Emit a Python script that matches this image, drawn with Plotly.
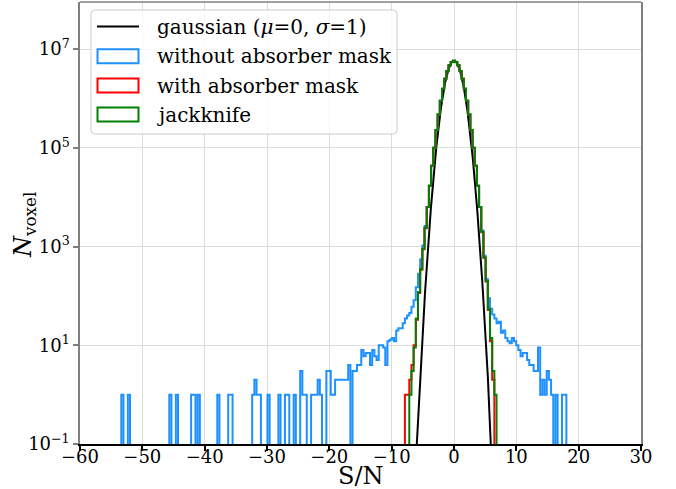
import numpy as np
import plotly.graph_objects as go

# ---------------- data ----------------
bin_width = 0.35

gauss_mu = 0.0
gauss_sigma = 1.0
gauss_peak = 5.75e6

core_sn = [-4.2, -3.85, -3.5, -3.15, -2.8, -2.45, -2.1, -1.75, -1.4, -1.05, -0.7, -0.35,
           0.0, 0.35, 0.7, 1.05, 1.4, 1.75, 2.1, 2.45, 2.8, 3.15, 3.5, 3.85, 4.2]
core_counts = [6.3e3, 1.7e4, 4.3e4, 1.0e5, 2.3e5, 4.7e5, 9.0e5, 1.56e6, 2.5e6, 3.6e6, 4.67e6, 5.46e6,
               5.75e6, 5.46e6, 4.67e6, 3.6e6, 2.5e6, 1.56e6, 9.0e5, 4.7e5, 2.3e5, 1.0e5, 4.3e4, 1.7e4, 6.3e3]

green_tail_sn = [-7.0, -6.65, -6.3, -5.95, -5.6, -5.25, -4.9, -4.55,
                 4.55, 4.9, 5.25, 5.6, 5.95, 6.3, 6.65]
green_tail_counts = [1, 3, 9, 35, 120, 350, 900, 2400,
                     2000, 600, 200, 55, 14, 3, 1]

red_tail_sn = [-7.7, -7.35, -7.0, -6.65, -6.3, -5.95, -5.6, -5.25, -4.9, -4.55,
               4.55, 4.9, 5.25, 5.6, 5.95, 6.3]
red_tail_counts = [1, 1, 2, 4, 10, 33, 115, 340, 880, 2350,
                   1950, 590, 195, 52, 12, 2]

blue_tail_sn = [-53.2, -52.15, -45.5, -44.45, -42.0, -41.65, -40.95, -37.8, -36.05, -35.7,
                -32.2, -31.85, -31.5, -31.15, -29.75, -28.0, -26.95, -26.6, -25.55, -24.5,
                -24.15, -23.8, -22.75, -22.4, -22.05, -21.7, -21.35, -20.3, -19.95, -19.6,
                -19.25, -18.9, -18.55, -18.2, -17.85, -17.5, -17.15, -16.8, -16.1, -15.75,
                -15.4, -15.05, -14.7, -14.35, -14.0, -13.65, -13.3, -12.95, -12.6, -12.25,
                -11.9, -11.55, -11.2, -10.85, -10.5, -10.15, -9.8, -9.45, -9.1, -8.75,
                -8.4, -8.05, -7.7, -7.35, -7.0, -6.65, -6.3, -5.95, -5.6, -5.25,
                -4.9, -4.55,
                4.55, 4.9, 5.25, 5.6, 5.95, 6.3, 6.65, 7.0, 7.35, 7.7,
                8.05, 8.4, 8.75, 9.1, 9.45, 9.8, 10.15, 10.5, 10.85, 11.2,
                11.55, 11.9, 12.25, 12.6, 12.95, 13.3, 13.65, 14.0, 14.35, 14.7,
                15.05, 15.4, 15.75, 16.45, 17.5, 17.85]
blue_tail_counts = [1, 1, 1, 1, 1, 1, 1, 1, 1, 1,
                    1, 2, 1, 1, 1, 1, 1, 1, 1, 3,
                    1, 1, 1, 1, 1, 2, 1, 3, 3, 1,
                    1, 2, 2, 2, 2, 2, 2, 4, 3, 3,
                    4, 4, 8, 6, 7, 7, 4, 8, 6, 5,
                    10, 10, 9, 4, 12, 13, 14, 12, 20, 22,
                    22, 28, 35, 40, 45, 60, 82, 150, 280, 550,
                    1050, 2600,
                    2100, 650, 220, 90, 55, 42, 35, 28, 30, 18,
                    20, 14, 12, 11, 14, 12, 10, 8, 6, 7,
                    7, 5, 4, 4, 3, 3, 9, 1, 2, 1,
                    3, 2, 1, 1, 1, 1]

x_tick_vals = [-60, -50, -40, -30, -20, -10, 0, 10, 20, 30]
y_tick_vals = [1e-1, 1e1, 1e3, 1e5, 1e7]
y_tick_text = ["10<sup>\u22121</sup>", "10<sup>1</sup>", "10<sup>3</sup>", "10<sup>5</sup>", "10<sup>7</sup>"]

labels = ["gaussian (<i>\u03bc</i>=0, <i>\u03c3</i>=1)", "without absorber mask",
          "with absorber mask", "jackknife"]
colors = ["black", "#1e90ff", "#ff0000", "#008000"]

# ---------------- helpers ----------------
FLOOR = 1e-3


def step_xy(sn, counts):
    k = np.rint(np.asarray(sn, dtype=float) / bin_width).astype(int)
    kmin, kmax = k.min(), k.max()
    full = np.zeros(kmax - kmin + 1)
    full[k - kmin] = counts
    full = np.where(full > 0, full, FLOOR)
    edges = (np.arange(kmin, kmax + 2) - 0.5) * bin_width
    xs = np.repeat(edges, 2)
    ys = np.concatenate([[FLOOR], np.repeat(full, 2), [FLOOR]])
    return xs, ys


W, H = 676, 489
L, R, T, B = 80, 35, 2, 45
PW, PH = W - L - R, H - T - B


def px(x):
    return (x - L) / PW


def py(y):
    return (H - B - y) / PH


fig = go.Figure()

# gaussian
gx = np.linspace(-8, 8, 801)
gy = gauss_peak * np.exp(-(gx - gauss_mu) ** 2 / (2 * gauss_sigma ** 2))
fig.add_trace(go.Scatter(x=gx, y=gy, mode="lines", line=dict(color=colors[0], width=2),
                         showlegend=False, hoverinfo="skip"))

series = [
    (core_sn + blue_tail_sn, core_counts + blue_tail_counts, colors[1]),
    (core_sn + red_tail_sn, core_counts + red_tail_counts, colors[2]),
    (core_sn + green_tail_sn, core_counts + green_tail_counts, colors[3]),
]
for sn, cnt, col in series:
    xs, ys = step_xy(sn, cnt)
    fig.add_trace(go.Scatter(x=xs, y=ys, mode="lines", line=dict(color=col, width=2),
                             showlegend=False, hoverinfo="skip"))

FONT = "DejaVu Serif"

fig.update_layout(
    width=W, height=H,
    margin=dict(l=L, r=R, t=T, b=B),
    paper_bgcolor="white", plot_bgcolor="white",
    font=dict(family=FONT, size=18, color="black"),
    showlegend=False,
)
fig.update_xaxes(
    range=[-60, 30], tickvals=x_tick_vals,
    showgrid=True, gridcolor="#dcdcdc", gridwidth=1, zeroline=False,
    showline=True, linecolor="black", linewidth=1.5,
    ticks="outside", ticklen=5, tickwidth=1.5, tickcolor="black",
    tickfont=dict(family=FONT, size=18),
    ticklabelstandoff=-9,
)
fig.update_yaxes(
    type="log", range=[-1, 7.952], tickvals=y_tick_vals, ticktext=y_tick_text,
    showgrid=True, gridcolor="#dcdcdc", gridwidth=1, zeroline=False,
    showline=True, linecolor="#808080", linewidth=1.5, mirror=True,
    ticks="outside", ticklen=5, tickwidth=1.5, tickcolor="#808080",
    tickfont=dict(family=FONT, size=18),
)

shapes = []
# top spine
shapes.append(dict(type="line", xref="paper", yref="paper", x0=0, x1=1, y0=1, y1=1,
                   line=dict(color="#808080", width=1.5)))

# legend box (rounded)
bx0, bx1, by0, by1, r = 91, 397, 10, 134, 4
path = (f"M{px(bx0 + r)},{py(by0)} L{px(bx1 - r)},{py(by0)} Q{px(bx1)},{py(by0)} {px(bx1)},{py(by0 + r)} "
        f"L{px(bx1)},{py(by1 - r)} Q{px(bx1)},{py(by1)} {px(bx1 - r)},{py(by1)} "
        f"L{px(bx0 + r)},{py(by1)} Q{px(bx0)},{py(by1)} {px(bx0)},{py(by1 - r)} "
        f"L{px(bx0)},{py(by0 + r)} Q{px(bx0)},{py(by0)} {px(bx0 + r)},{py(by0)} Z")
shapes.append(dict(type="path", xref="paper", yref="paper", path=path,
                   fillcolor="rgba(255,255,255,0.8)", line=dict(color="#cccccc", width=1)))

entry_y = [26.5, 56.3, 85.5, 114.5]
shapes.append(dict(type="line", xref="paper", yref="paper", x0=px(97), x1=px(139),
                   y0=py(entry_y[0]), y1=py(entry_y[0]), line=dict(color=colors[0], width=2)))
for i in range(1, 4):
    shapes.append(dict(type="rect", xref="paper", yref="paper", x0=px(97.5), x1=px(138.5),
                       y0=py(entry_y[i] - 7), y1=py(entry_y[i] + 7),
                       line=dict(color=colors[i], width=2), fillcolor="rgba(0,0,0,0)"))

annotations = []
for i, lab in enumerate(labels):
    annotations.append(dict(xref="paper", yref="paper", x=px(155), y=py(entry_y[i]),
                            text=lab, showarrow=False, xanchor="left", yanchor="middle",
                            font=dict(family=FONT, size=20, color="black")))

annotations.append(dict(xref="paper", yref="paper", x=px(360.5), y=py(475.5),
                        text="S/N", showarrow=False, xanchor="center", yanchor="middle",
                        font=dict(family=FONT, size=24, color="black")))
annotations.append(dict(xref="paper", yref="paper", x=px(24), y=py(225),
                        text="<i>N</i><sub>voxel</sub>", showarrow=False, textangle=-90,
                        xanchor="center", yanchor="middle",
                        font=dict(family=FONT, size=24, color="black")))

fig.update_layout(shapes=shapes, annotations=annotations)

fig.write_html("out.html")
